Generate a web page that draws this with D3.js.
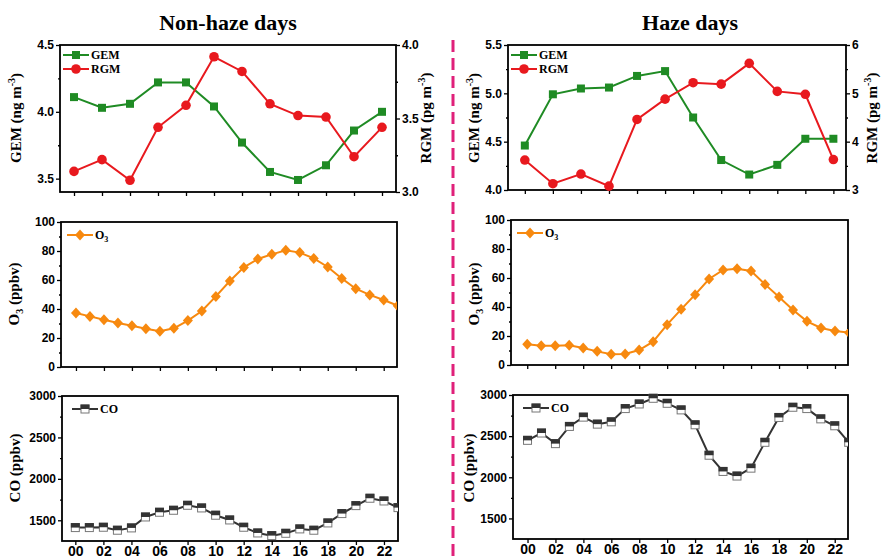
<!DOCTYPE html>
<html>
<head>
<meta charset="utf-8">
<script src="https://d3js.org/d3.v7.min.js"></script>
<style>
    body { margin: 0; background: #fff; }
    svg { font-family: "Liberation Serif", "Times New Roman", serif; font-weight: bold; }
    .tick text { font-size: 12px; font-weight: bold; fill: #000; }
    .tick line { stroke: #000; stroke-width: 1.3px; }
</style>
</head>
<body>
<svg width="883" height="560"></svg>
<script>
// hours of day
var hoursEven = [0, 2, 4, 6, 8, 10, 12, 14, 16, 18, 20, 22];
var hoursAll = d3.range(0, 24);
var hourLabels = ["00", "02", "04", "06", "08", "10", "12", "14", "16", "18", "20", "22"];

// GEM (ng m-3) and RGM (pg m-3), every 2 h
var gemNonHaze = [4.11, 4.03, 4.06, 4.22, 4.22, 4.04, 3.77, 3.55, 3.49, 3.60, 3.86, 4.00];
var rgmNonHaze = [3.14, 3.22, 3.08, 3.44, 3.59, 3.92, 3.82, 3.60, 3.52, 3.51, 3.24, 3.44];
var gemHaze = [4.46, 4.99, 5.05, 5.06, 5.18, 5.23, 4.75, 4.31, 4.16, 4.26, 4.53, 4.53];
var rgmHaze = [3.62, 3.13, 3.33, 3.08, 4.46, 4.88, 5.22, 5.19, 5.62, 5.04, 4.98, 3.63];

// O3 (ppbv), hourly
var o3NonHaze = [37.2, 34.9, 32.6, 30.3, 28.5, 26.4, 24.6, 26.7, 32.0, 38.6, 48.7, 59.3,
                 68.7, 74.5, 77.7, 80.5, 78.9, 74.9, 69.0, 61.1, 54.0, 49.7, 46.2, 42.3];
var o3Haze = [14.3, 13.3, 13.3, 13.6, 11.7, 9.4, 7.4, 7.6, 10.3, 16.1, 27.8, 38.4,
              48.5, 59.3, 65.5, 66.4, 64.8, 55.6, 46.9, 37.9, 30.1, 25.5, 23.4, 22.3];

// CO (ppbv), hourly
var coNonHaze = [1412, 1412, 1416, 1380, 1408, 1540, 1597, 1621, 1681, 1649, 1561, 1504,
                 1416, 1347, 1315, 1343, 1396, 1380, 1468, 1581, 1677, 1766, 1733, 1653];
var coHaze = [2449, 2538, 2409, 2618, 2731, 2646, 2674, 2835, 2891, 2960, 2899, 2819,
              2638, 2268, 2071, 2015, 2111, 2425, 2727, 2851, 2835, 2710, 2626, 2425];

var GREEN = "#1f8b24", RED = "#e8191e", ORANGE = "#f7890f", DARK = "#333";

var svg = d3.select("svg");

// titles
svg.append("text").attr("x", 228).attr("y", 30).attr("text-anchor", "middle")
    .style("font-size", "22px").text("Non-haze days");
svg.append("text").attr("x", 690).attr("y", 30).attr("text-anchor", "middle")
    .style("font-size", "22px").text("Haze days");

// divider
svg.append("line").attr("x1", 453).attr("x2", 453).attr("y1", 40).attr("y2", 560)
    .attr("stroke", "#e0207a").attr("stroke-width", 3).attr("stroke-dasharray", "12,6");

function panel(x0, x1, y0, y1, xdom) {
    var p = {};
    p.g = svg.append("g");
    p.x = d3.scaleLinear().domain(xdom).range([x0, x1]);
    p.x0 = x0; p.x1 = x1; p.y0 = y0; p.y1 = y1;
    return p;
}

function frame(p) {
    p.g.append("rect").attr("x", p.x0).attr("y", p.y0)
        .attr("width", p.x1 - p.x0).attr("height", p.y1 - p.y0)
        .attr("fill", "none").attr("stroke", "#000").attr("stroke-width", 1.8);
}

function xAxis(p, labels) {
    var ax = d3.axisBottom(p.x).tickValues(hoursEven).tickSize(4).tickPadding(1)
        .tickFormat(function (d, i) { return labels ? labels[i] : ""; });
    var a = p.g.append("g").attr("transform", "translate(0," + p.y1 + ")").call(ax);
    a.select(".domain").remove();
    a.selectAll("text").style("font-size", "14px");
}

function yAxis(p, y, side, major, minor, fmt) {
    var mk = side === "left" ? d3.axisLeft : d3.axisRight;
    var tx = side === "left" ? p.x0 : p.x1;
    var m = p.g.append("g").attr("transform", "translate(" + tx + ",0)")
        .call(mk(y).tickValues(minor).tickSize(2).tickFormat(""));
    m.select(".domain").remove();
    var a = p.g.append("g").attr("transform", "translate(" + tx + ",0)")
        .call(mk(y).tickValues(major).tickSize(4).tickPadding(2).tickFormat(fmt));
    a.select(".domain").remove();
}

function yTitle(x, y, main, sup, tail) {
    var t = svg.append("text").attr("transform", "translate(" + x + "," + y + ") rotate(-90)")
        .attr("text-anchor", "middle").style("font-size", "15px");
    t.append("tspan").text(main);
    if (sup) {
        t.append("tspan").attr("dy", -6).style("font-size", "10px").text(sup);
        t.append("tspan").attr("dy", 6).text(tail);
    }
    return t;
}

function series(p, xs, ys, y, color, marker) {
    var line = d3.line().x(function (d, i) { return p.x(xs[i]); }).y(function (d) { return y(d); });
    var clip = "c" + Math.round(p.x0) + "_" + Math.round(p.y0);
    svg.append("clipPath").attr("id", clip).append("rect")
        .attr("x", p.x0).attr("y", p.y0 - 8).attr("width", p.x1 - p.x0).attr("height", p.y1 - p.y0 + 16);
    var g = p.g.append("g").attr("clip-path", "url(#" + clip + ")");
    g.append("path").datum(ys).attr("d", line).attr("fill", "none")
        .attr("stroke", color).attr("stroke-width", 2);
    ys.forEach(function (d, i) {
        marker(g, p.x(xs[i]), y(d));
    });
}

function square(color) {
    return function (g, cx, cy) {
        g.append("rect").attr("x", cx - 4).attr("y", cy - 4).attr("width", 8).attr("height", 8).attr("fill", color);
    };
}
function circle(color) {
    return function (g, cx, cy) {
        g.append("circle").attr("cx", cx).attr("cy", cy).attr("r", 4.8).attr("fill", color);
    };
}
function diamond(color) {
    return function (g, cx, cy) {
        g.append("path").attr("d", "M" + cx + "," + (cy - 5.5) + "L" + (cx + 5) + "," + cy +
            "L" + cx + "," + (cy + 5.5) + "L" + (cx - 5) + "," + cy + "Z").attr("fill", color);
    };
}
function halfSquare(g, cx, cy) {
    g.append("rect").attr("x", cx - 4).attr("y", cy - 4).attr("width", 8).attr("height", 8)
        .attr("fill", "#fff").attr("stroke", "#777").attr("stroke-width", 1);
    g.append("rect").attr("x", cx - 4.5).attr("y", cy - 4.5).attr("width", 9).attr("height", 4.5).attr("fill", DARK);
}

function legendItem(x, y, color, marker, label, sub) {
    var g = svg.append("g");
    g.append("line").attr("x1", x).attr("x2", x + 26).attr("y1", y).attr("y2", y)
        .attr("stroke", color).attr("stroke-width", 2);
    marker(g, x + 13, y);
    var t = g.append("text").attr("x", x + 28).attr("y", y + 4).style("font-size", "12px");
    t.append("tspan").text(label);
    if (sub) t.append("tspan").attr("dy", 3).style("font-size", "8px").text(sub);
}

// ---------- top: GEM / RGM ----------
function topPanel(x0, x1, y0, y1, xdom, gem, rgm, gdom, rdom, gTicks, gMinor, rTicks, rMinor, gFmt, rFmt) {
    var p = panel(x0, x1, y0, y1, xdom);
    var yG = d3.scaleLinear().domain(gdom).range([y1, y0]);
    var yR = d3.scaleLinear().domain(rdom).range([y1, y0]);
    frame(p);
    xAxis(p, null);
    yAxis(p, yG, "left", gTicks, gMinor, gFmt);
    yAxis(p, yR, "right", rTicks, rMinor, rFmt);
    series(p, hoursEven, gem, yG, GREEN, square(GREEN));
    series(p, hoursEven, rgm, yR, RED, circle(RED));
    legendItem(x0 + 3, y0 + 10, GREEN, square(GREEN), "GEM");
    legendItem(x0 + 3, y0 + 24, RED, circle(RED), "RGM");
}

topPanel(60, 396, 45, 192, [-1, 23], gemNonHaze, rgmNonHaze, [3.4, 4.5], [3.0, 4.0],
    [3.5, 4.0, 4.5], [3.75, 4.25], [3.0, 3.5, 4.0], [3.25, 3.75], d3.format(".1f"), d3.format(".1f"));
topPanel(508, 846, 45, 190, [-1.2, 22.9], gemHaze, rgmHaze, [4.0, 5.5], [3, 6],
    [4.0, 4.5, 5.0, 5.5], [4.25, 4.75, 5.25], [3, 4, 5, 6], [3.5, 4.5, 5.5], d3.format(".1f"), d3.format("d"));

yTitle(21, 118, "GEM (ng m", "-3", ")");
yTitle(431, 118, "RGM (pg m", "-3", ")");
yTitle(479, 118, "GEM (ng m", "-3", ")");
yTitle(877, 118, "RGM (pg m", "-3", ")");

// ---------- middle: O3 ----------
function o3Panel(x0, x1, y0, y1, xdom, vals) {
    var p = panel(x0, x1, y0, y1, xdom);
    var y = d3.scaleLinear().domain([0, 100]).range([y1, y0]);
    frame(p);
    xAxis(p, null);
    yAxis(p, y, "left", [0, 20, 40, 60, 80, 100], [10, 30, 50, 70, 90], d3.format("d"));
    series(p, hoursAll, vals, y, ORANGE, diamond(ORANGE));
    legendItem(x0 + 6, y0 + 13, ORANGE, diamond(ORANGE), "O", "3");
}
o3Panel(61, 397, 222, 367, [-1.07, 22.95], o3NonHaze);
o3Panel(511, 848, 220, 365, [-1.16, 22.93], o3Haze);

function o3Title(x) {
    var t = svg.append("text").attr("transform", "translate(" + x + ",294) rotate(-90)")
        .attr("text-anchor", "middle").style("font-size", "15px");
    t.append("tspan").text("O");
    t.append("tspan").attr("dy", 4).style("font-size", "10px").text("3");
    t.append("tspan").attr("dy", -4).text(" (ppbv)");
}
o3Title(19);
o3Title(479);

// ---------- bottom: CO ----------
function coPanel(x0, x1, y0, y1, xdom, vals) {
    var p = panel(x0, x1, y0, y1, xdom);
    var y = d3.scaleLinear().domain([1250, 3000]).range([y1, y0]);
    frame(p);
    xAxis(p, hourLabels);
    yAxis(p, y, "left", [1500, 2000, 2500, 3000], [1750, 2250, 2750], d3.format("d"));
    series(p, hoursAll, vals, y, DARK, halfSquare);
    legendItem(x0 + 10, y0 + 13, DARK, halfSquare, "CO");
}
coPanel(62, 398, 396, 541, [-0.95, 23.0], coNonHaze);
coPanel(513, 848, 395, 539, [-1.04, 22.95], coHaze);

yTitle(20, 468, "CO (ppbv)");
yTitle(474, 468, "CO (ppbv)");
</script>
</body>
</html>
